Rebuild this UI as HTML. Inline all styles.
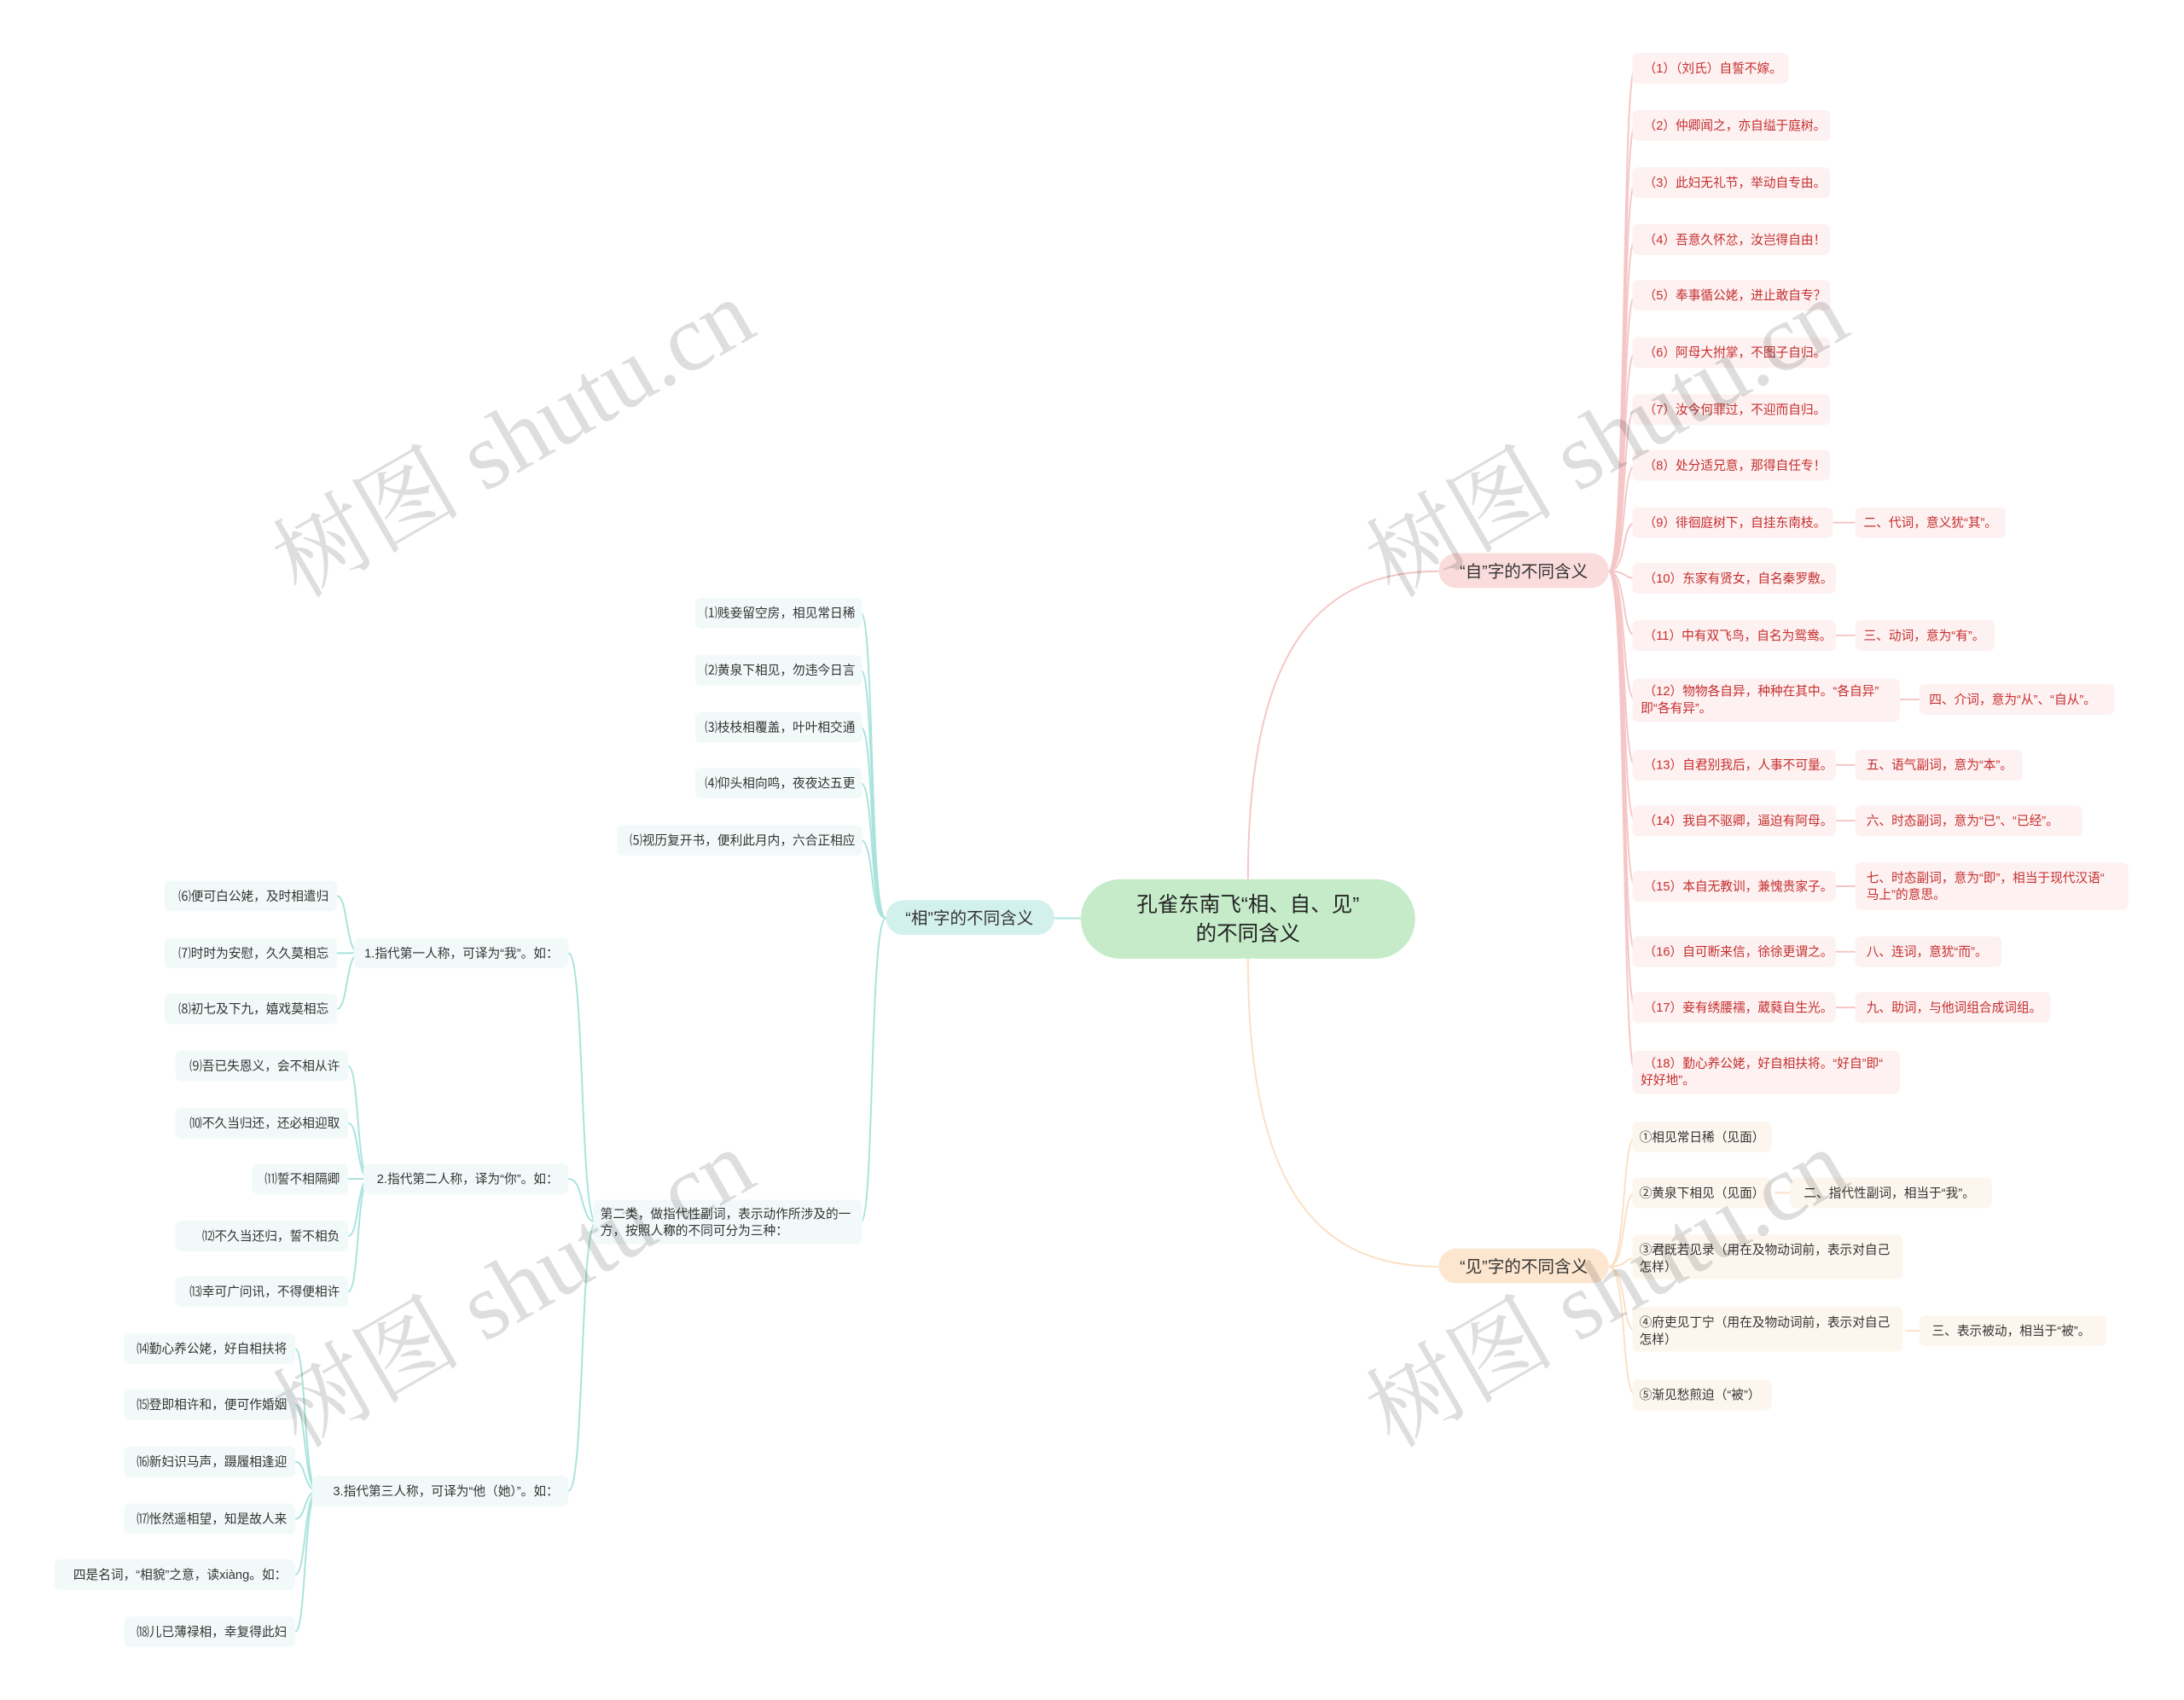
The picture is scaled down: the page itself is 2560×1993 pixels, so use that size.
<!DOCTYPE html>
<html><head><meta charset="utf-8"><style>
html,body{margin:0;padding:0;background:#fff;}
svg{display:block;font-family:"Liberation Sans","Noto Sans CJK SC",sans-serif;}
.r{fill:#c62e2e;font-size:9px;}
.k{fill:#333;font-size:9px;}
.rb{fill:#fdf1f1;}
.cb{fill:#f2faf9;}
.yb{fill:#fdf6ee;}
.wm{fill:#000;fill-opacity:0.13;font-family:"Liberation Serif","Noto Serif CJK SC",serif;font-size:68px;}
</style></head><body>
<svg width="2560" height="1993" viewBox="0 0 1568 1220" preserveAspectRatio="none" xmlns="http://www.w3.org/2000/svg">
<g fill="none" stroke-width="1.2">
<path d="M896,631 C896,460 950,410 1033,410" stroke="#f5c6c6"/>
<path d="M896,688 C896,860 950,909 1033,909" stroke="#fbe0c4"/>
<path d="M757,659 L776,659" stroke="#a9e3dc"/>
<g stroke="#f5c6c6">
<path d="M1155,410 C1168,410 1164,49 1174,49"/><path d="M1155,410 C1168,410 1164,90 1174,90"/>
<path d="M1155,410 C1168,410 1164,131 1174,131"/><path d="M1155,410 C1168,410 1164,172 1174,172"/>
<path d="M1155,410 C1168,410 1164,212 1174,212"/><path d="M1155,410 C1168,410 1164,253 1174,253"/>
<path d="M1155,410 C1168,410 1164,294 1174,294"/><path d="M1155,410 C1168,410 1164,334 1174,334"/>
<path d="M1155,410 C1168,410 1164,375 1174,375"/><path d="M1155,410 C1168,410 1166,415 1174,415"/>
<path d="M1155,410 C1168,410 1164,456 1174,456"/><path d="M1155,410 C1168,410 1164,502 1174,502"/>
<path d="M1155,410 C1168,410 1164,549 1174,549"/><path d="M1155,410 C1168,410 1164,589 1174,589"/>
<path d="M1155,410 C1168,410 1164,636 1174,636"/><path d="M1155,410 C1168,410 1164,683 1174,683"/>
<path d="M1155,410 C1168,410 1164,723 1174,723"/><path d="M1155,410 C1168,410 1164,769 1174,769"/>
<path d="M1316,375 L1332,375"/><path d="M1316,456 L1332,456"/><path d="M1364,502 L1378,502"/>
<path d="M1318,549 L1332,549"/><path d="M1318,589 L1332,589"/><path d="M1318,636 L1332,636"/>
<path d="M1318,683 L1332,683"/><path d="M1318,723 L1332,723"/>
</g>
<g stroke="#fbe0c4">
<path d="M1155,909 C1168,909 1164,816 1174,816"/><path d="M1155,909 C1168,909 1164,856 1174,856"/>
<path d="M1155,909 C1168,909 1166,903 1174,903"/><path d="M1155,909 C1168,909 1164,955 1174,955"/>
<path d="M1155,909 C1168,909 1164,1001 1174,1001"/>
<path d="M1274,856 L1285,856"/><path d="M1368,955 L1378,955"/>
</g>
<g stroke="#a9e3dc">
<path d="M636,659 C624,659 628,440 618,440"/><path d="M636,659 C624,659 628,481 618,481"/>
<path d="M636,659 C624,659 628,522 618,522"/><path d="M636,659 C624,659 628,562 618,562"/>
<path d="M636,659 C624,659 628,603 618,603"/><path d="M636,659 C624,659 628,877 618,877"/>
<path d="M428,877 C416,877 420,684 408,684"/><path d="M428,877 C416,877 420,846 408,846"/>
<path d="M428,877 C416,877 420,1070 408,1070"/>
<path d="M258,684 C248,684 250,643 242,643"/><path d="M258,684 L242,684"/><path d="M258,684 C248,684 250,724 242,724"/>
<path d="M265,846 C256,846 258,765 250,765"/><path d="M265,846 C256,846 258,806 250,806"/><path d="M265,846 L250,846"/>
<path d="M265,846 C256,846 258,887 250,887"/><path d="M265,846 C256,846 258,927 250,927"/>
<path d="M228,1070 C218,1070 220,968 212,968"/><path d="M228,1070 C218,1070 220,1008 212,1008"/>
<path d="M228,1070 C218,1070 220,1049 212,1049"/><path d="M228,1070 C218,1070 220,1090 212,1090"/>
<path d="M228,1070 C218,1070 220,1130 212,1130"/><path d="M228,1070 C218,1070 220,1171 212,1171"/>
</g>
</g>

<rect x="776" y="631" width="240" height="57" rx="28.5" fill="#c5ebc9"/>
<text x="896" y="654" text-anchor="middle" font-size="15" fill="#222">孔雀东南飞“相、自、见”</text>
<text x="896" y="675" text-anchor="middle" font-size="15" fill="#222">的不同含义</text>
<rect x="1033" y="397" width="122" height="25" rx="12.5" fill="#fbdcdc"/>
<text x="1094" y="414" text-anchor="middle" font-size="12" fill="#333">“自”字的不同含义</text>
<rect x="1033" y="896" width="122" height="25" rx="12.5" fill="#fde6cf"/>
<text x="1094" y="913" text-anchor="middle" font-size="12" fill="#333">“见”字的不同含义</text>
<rect x="636" y="646" width="121" height="25" rx="12.5" fill="#d3f1ec"/>
<text x="696" y="663" text-anchor="middle" font-size="12" fill="#333">“相”字的不同含义</text>

<g>
<rect class="rb" x="1172" y="38" width="112" height="22" rx="4"/><text class="r" x="1180" y="52">（1）（刘氏）自誓不嫁。</text>
<rect class="rb" x="1172" y="79" width="142" height="22" rx="4"/><text class="r" x="1180" y="93">（2）仲卿闻之，亦自缢于庭树。</text>
<rect class="rb" x="1172" y="120" width="142" height="22" rx="4"/><text class="r" x="1180" y="134">（3）此妇无礼节，举动自专由。</text>
<rect class="rb" x="1172" y="161" width="142" height="22" rx="4"/><text class="r" x="1180" y="175">（4）吾意久怀忿，汝岂得自由！</text>
<rect class="rb" x="1172" y="201" width="142" height="22" rx="4"/><text class="r" x="1180" y="215">（5）奉事循公姥，进止敢自专？</text>
<rect class="rb" x="1172" y="242" width="142" height="22" rx="4"/><text class="r" x="1180" y="256">（6）阿母大拊掌，不图子自归。</text>
<rect class="rb" x="1172" y="283" width="142" height="22" rx="4"/><text class="r" x="1180" y="297">（7）汝今何罪过，不迎而自归。</text>
<rect class="rb" x="1172" y="323" width="142" height="22" rx="4"/><text class="r" x="1180" y="337">（8）处分适兄意，那得自任专！</text>
<rect class="rb" x="1172" y="364" width="144" height="22" rx="4"/><text class="r" x="1180" y="378">（9）徘徊庭树下，自挂东南枝。</text>
<rect class="rb" x="1172" y="404" width="146" height="22" rx="4"/><text class="r" x="1180" y="418">（10）东家有贤女，自名秦罗敷。</text>
<rect class="rb" x="1172" y="445" width="146" height="22" rx="4"/><text class="r" x="1180" y="459">（11）中有双飞鸟，自名为鸳鸯。</text>
<rect class="rb" x="1172" y="487" width="192" height="31" rx="4"/><text class="r" x="1180" y="499">（12）物物各自异，种种在其中。“各自异”</text><text class="r" x="1178" y="511">即“各有异”。</text>
<rect class="rb" x="1172" y="538" width="146" height="22" rx="4"/><text class="r" x="1180" y="552">（13）自君别我后，人事不可量。</text>
<rect class="rb" x="1172" y="578" width="146" height="22" rx="4"/><text class="r" x="1180" y="592">（14）我自不驱卿，逼迫有阿母。</text>
<rect class="rb" x="1172" y="625" width="146" height="22" rx="4"/><text class="r" x="1180" y="639">（15）本自无教训，兼愧贵家子。</text>
<rect class="rb" x="1172" y="672" width="146" height="22" rx="4"/><text class="r" x="1180" y="686">（16）自可断来信，徐徐更谓之。</text>
<rect class="rb" x="1172" y="712" width="146" height="22" rx="4"/><text class="r" x="1180" y="726">（17）妾有绣腰襦，葳蕤自生光。</text>
<rect class="rb" x="1172" y="754" width="192" height="31" rx="4"/><text class="r" x="1180" y="766">（18）勤心养公姥，好自相扶将。“好自”即“</text><text class="r" x="1178" y="778">好好地”。</text>

<rect class="rb" x="1332" y="364" width="108" height="22" rx="4"/><text class="r" x="1338" y="378">二、代词，意义犹“其”。</text>
<rect class="rb" x="1332" y="445" width="100" height="22" rx="4"/><text class="r" x="1338" y="459">三、动词，意为“有”。</text>
<rect class="rb" x="1378" y="491" width="140" height="22" rx="4"/><text class="r" x="1385" y="505">四、介词，意为“从”、“自从”。</text>
<rect class="rb" x="1332" y="538" width="120" height="22" rx="4"/><text class="r" x="1340" y="552">五、语气副词，意为“本”。</text>
<rect class="rb" x="1332" y="578" width="163" height="22" rx="4"/><text class="r" x="1340" y="592">六、时态副词，意为“已”、“已经”。</text>
<rect class="rb" x="1332" y="619" width="196" height="34" rx="4"/><text class="r" x="1340" y="633">七、时态副词，意为“即”，相当于现代汉语“</text><text class="r" x="1340" y="645">马上”的意思。</text>
<rect class="rb" x="1332" y="672" width="105" height="22" rx="4"/><text class="r" x="1340" y="686">八、连词，意犹“而”。</text>
<rect class="rb" x="1332" y="712" width="140" height="22" rx="4"/><text class="r" x="1340" y="726">九、助词，与他词组合成词组。</text>
</g>

<g>
<rect class="yb" x="1172" y="805" width="100" height="22" rx="4"/><text class="k" x="1177" y="819">①相见常日稀（见面）</text>
<rect class="yb" x="1172" y="845" width="100" height="22" rx="4"/><text class="k" x="1177" y="859">②黄泉下相见（见面）</text>
<rect class="yb" x="1172" y="886" width="194" height="32" rx="4"/><text class="k" x="1177" y="900">③君既若见录（用在及物动词前，表示对自己</text><text class="k" x="1177" y="912">怎样）</text>
<rect class="yb" x="1172" y="938" width="194" height="32" rx="4"/><text class="k" x="1177" y="952">④府吏见丁宁（用在及物动词前，表示对自己</text><text class="k" x="1177" y="964">怎样）</text>
<rect class="yb" x="1172" y="990" width="100" height="22" rx="4"/><text class="k" x="1177" y="1004">⑤渐见愁煎迫（“被”）</text>
<rect class="yb" x="1285" y="845" width="145" height="22" rx="4"/><text class="k" x="1295" y="859">二、指代性副词，相当于“我”。</text>
<rect class="yb" x="1378" y="944" width="134" height="22" rx="4"/><text class="k" x="1387" y="958">三、表示被动，相当于“被”。</text>
</g>

<g text-anchor="end">
<rect class="cb" x="499" y="429" width="120" height="22" rx="4"/><text class="k" x="614" y="443">⑴贱妾留空房，相见常日稀</text>
<rect class="cb" x="499" y="470" width="120" height="22" rx="4"/><text class="k" x="614" y="484">⑵黄泉下相见，勿违今日言</text>
<rect class="cb" x="499" y="511" width="120" height="22" rx="4"/><text class="k" x="614" y="525">⑶枝枝相覆盖，叶叶相交通</text>
<rect class="cb" x="499" y="551" width="120" height="22" rx="4"/><text class="k" x="614" y="565">⑷仰头相向鸣，夜夜达五更</text>
<rect class="cb" x="443" y="592" width="176" height="22" rx="4"/><text class="k" x="614" y="606">⑸视历复开书，便利此月内，六合正相应</text>
<rect class="cb" x="426" y="861" width="193" height="32" rx="4"/>
<text class="k" x="431" y="874" text-anchor="start">第二类，做指代性副词，表示动作所涉及的一</text><text class="k" x="431" y="886" text-anchor="start">方，按照人称的不同可分为三种：</text>
<rect class="cb" x="254" y="673" width="154" height="22" rx="4"/><text class="k" x="401" y="687">1.指代第一人称，可译为“我”。如：</text>
<rect class="cb" x="261" y="835" width="147" height="22" rx="4"/><text class="k" x="401" y="849">2.指代第二人称，译为“你”。如：</text>
<rect class="cb" x="224" y="1059" width="184" height="22" rx="4"/><text class="k" x="401" y="1073">3.指代第三人称，可译为“他（她）”。如：</text>
<rect class="cb" x="118" y="632" width="124" height="22" rx="4"/><text class="k" x="236" y="646">⑹便可白公姥，及时相遣归</text>
<rect class="cb" x="118" y="673" width="124" height="22" rx="4"/><text class="k" x="236" y="687">⑺时时为安慰，久久莫相忘</text>
<rect class="cb" x="118" y="713" width="124" height="22" rx="4"/><text class="k" x="236" y="727">⑻初七及下九，嬉戏莫相忘</text>
<rect class="cb" x="126" y="754" width="124" height="22" rx="4"/><text class="k" x="244" y="768">⑼吾已失恩义，会不相从许</text>
<rect class="cb" x="126" y="795" width="124" height="22" rx="4"/><text class="k" x="244" y="809">⑽不久当归还，还必相迎取</text>
<rect class="cb" x="181" y="835" width="69" height="22" rx="4"/><text class="k" x="244" y="849">⑾誓不相隔卿</text>
<rect class="cb" x="126" y="876" width="124" height="22" rx="4"/><text class="k" x="244" y="890">⑿不久当还归，誓不相负</text>
<rect class="cb" x="126" y="916" width="124" height="22" rx="4"/><text class="k" x="244" y="930">⒀幸可广问讯，不得便相许</text>
<rect class="cb" x="89" y="957" width="123" height="22" rx="4"/><text class="k" x="206" y="971">⒁勤心养公姥，好自相扶将</text>
<rect class="cb" x="89" y="997" width="123" height="22" rx="4"/><text class="k" x="206" y="1011">⒂登即相许和，便可作婚姻</text>
<rect class="cb" x="89" y="1038" width="123" height="22" rx="4"/><text class="k" x="206" y="1052">⒃新妇识马声，蹑履相逢迎</text>
<rect class="cb" x="89" y="1079" width="123" height="22" rx="4"/><text class="k" x="206" y="1093">⒄怅然遥相望，知是故人来</text>
<rect class="cb" x="39" y="1119" width="173" height="22" rx="4"/><text class="k" x="206" y="1133">四是名词，“相貌”之意，读xiàng。如：</text>
<rect class="cb" x="89" y="1160" width="123" height="22" rx="4"/><text class="k" x="206" y="1174">⒅儿已薄禄相，幸复得此妇</text>
</g>

<text class="wm" transform="translate(215,430) rotate(-30)">树图 shutu.cn</text>
<text class="wm" transform="translate(215,1040) rotate(-30)">树图 shutu.cn</text>
<text class="wm" transform="translate(1000,430) rotate(-30)">树图 shutu.cn</text>
<text class="wm" transform="translate(1000,1040) rotate(-30)">树图 shutu.cn</text>
</svg>
</body></html>
